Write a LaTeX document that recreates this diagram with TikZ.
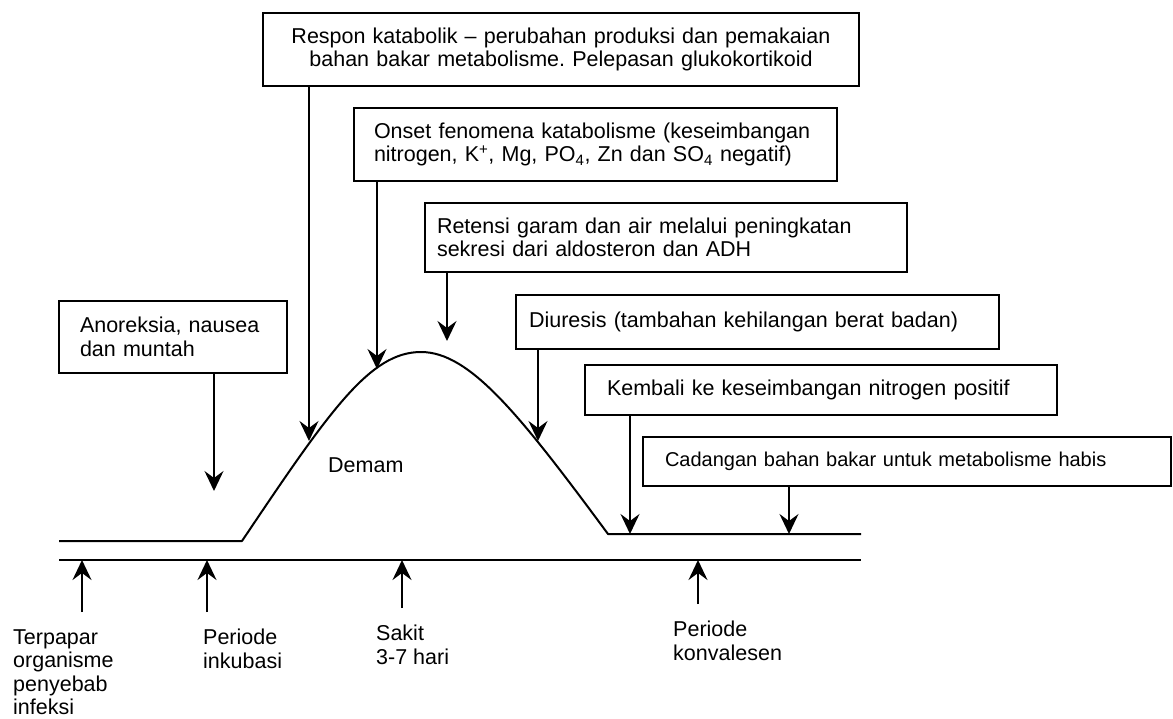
\documentclass[tikz,border=0pt]{standalone}
\usepackage{fontspec}
\setmainfont{Liberation Sans}
\usetikzlibrary{arrows.meta}
\frenchspacing

\begin{document}
\begin{tikzpicture}[x=1pt,y=-1pt,
    font=\fontsize{21.5}{23.5}\selectfont,
    kotak/.style={draw, line width=2pt, anchor=north west, align=left, inner ysep=0pt},
    keterangan/.style={anchor=north west, align=left, inner sep=0pt},
    garis/.style={line width=2pt, line join=round},
    panah/.style={line width=2pt, -{Stealth[length=20pt,width=19pt,inset=7pt]}}
]
    \newcommand{\panahTurun}[2]{
        \draw[panah] (#1.south -| #2) -- (#2);
    }
    \newcommand{\panahNaik}[2]{
        \draw[panah] ([yshift=17pt]#1.north -| #2) -- (#2);
    }

    \useasboundingbox (0,0) rectangle (1173,718);

    \node[kotak, align=center, text width=576pt, inner xsep=10pt, minimum height=73pt] (respon) at (262,12)
        {Respon katabolik -- perubahan produksi dan pemakaian\\bahan bakar metabolisme. Pelepasan glukokortikoid};
    \node[kotak, text width=443pt, inner xsep=20pt, minimum height=73pt] (onset) at (353,107)
        {Onset fenomena katabolisme (keseimbangan\\nitrogen, K\textsuperscript{+}, Mg, PO\textsubscript{4}, Zn dan SO\textsubscript{4} negatif)};
    \node[kotak, text width=458pt, inner xsep=12pt, minimum height=69pt] (retensi) at (424,202)
        {Retensi garam dan air melalui peningkatan\\sekresi dari aldosteron dan ADH};
    \node[kotak, text width=457pt, inner xsep=13pt, minimum height=54pt] (diuresis) at (515,294)
        {Diuresis (tambahan kehilangan berat badan)};
    \node[kotak, text width=428pt, inner xsep=22pt, minimum height=50pt] (kembali) at (584,364)
        {Kembali ke keseimbangan nitrogen positif};
    \node[kotak, text width=484pt, inner xsep=22pt, minimum height=49pt, font=\fontsize{20}{23.5}\selectfont] (cadangan) at (642,436)
        {Cadangan bahan bakar untuk metabolisme habis};
    \node[kotak, text width=186pt, inner xsep=21pt, minimum height=72pt] (anoreksia) at (58,300)
        {Anoreksia, nausea\\dan muntah};

    \draw[garis] (59,541) -- (242,541)
        .. controls (330,410) and (370,352) .. (421,352)
        .. controls (470,352) and (520,415) .. (608,534) -- (861,534);
    \draw[garis] (59,560) -- (861,560);

    \node[anchor=base west, inner sep=0pt] (demam) at (328,472) {Demam};

    \coordinate (tKatabolik) at (309,441);
    \coordinate (tOnset) at (377,369);
    \coordinate (tRetensi) at (447,341);
    \coordinate (tDiuresis) at (538,441);
    \coordinate (tKembali) at (630,534);
    \coordinate (tCadangan) at (789,534);
    \coordinate (tAnoreksia) at (214,491);

    \panahTurun{respon}{tKatabolik}
    \panahTurun{onset}{tOnset}
    \panahTurun{retensi}{tRetensi}
    \panahTurun{diuresis}{tDiuresis}
    \panahTurun{kembali}{tKembali}
    \panahTurun{cadangan}{tCadangan}
    \panahTurun{anoreksia}{tAnoreksia}

    \node[keterangan] (terpapar) at (13,629) {Terpapar\\organisme\\penyebab\\infeksi};
    \node[keterangan] (inkubasi) at (203,629) {Periode\\inkubasi};
    \node[keterangan] (sakit) at (376,625) {Sakit\\3-7 hari};
    \node[keterangan] (konvalesen) at (673,621) {Periode\\konvalesen};

    \coordinate (aPapar) at (82,560);
    \coordinate (aInkubasi) at (207,560);
    \coordinate (aSakit) at (402,560);
    \coordinate (aKonvalesen) at (698,560);

    \panahNaik{terpapar}{aPapar}
    \panahNaik{inkubasi}{aInkubasi}
    \panahNaik{sakit}{aSakit}
    \panahNaik{konvalesen}{aKonvalesen}

\end{tikzpicture}
\end{document}
